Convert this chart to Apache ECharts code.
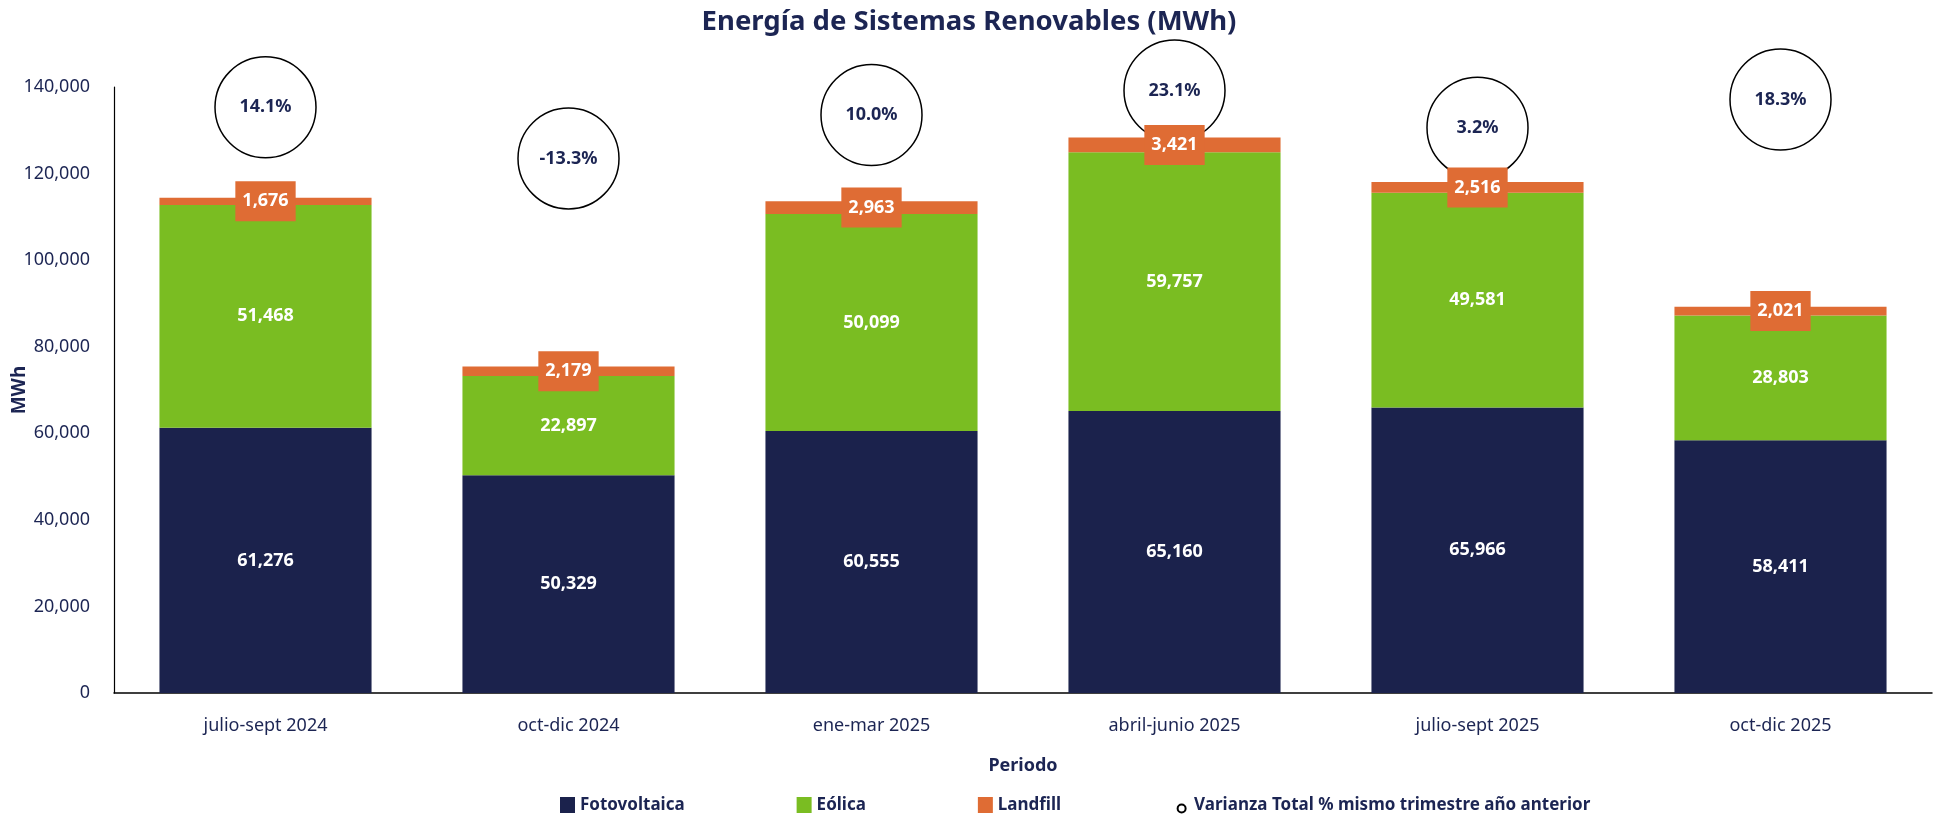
<!DOCTYPE html>
<html>
<head>
<meta charset="utf-8">
<script src="https://cdn.jsdelivr.net/npm/echarts@6/dist/echarts.min.js"></script>
<style>
    html, body { margin: 0; padding: 0; background: #ffffff; }
    #chart { width: 1938px; height: 815px; }
</style>
</head>
<body>
<div id="chart"></div>
<script>
// datos
const periodos = ['julio-sept 2024', 'oct-dic 2024', 'ene-mar 2025', 'abril-junio 2025', 'julio-sept 2025', 'oct-dic 2025']
const fotovoltaica = [61276, 50329, 60555, 65160, 65966, 58411]
const eolica = [51468, 22897, 50099, 59757, 49581, 28803]
const landfill = [1676, 2179, 2963, 3421, 2516, 2021]
const varianza = [14.1, -13.3, 10.0, 23.1, 3.2, 18.3] // % mismo trimestre año anterior

const NAVY = '#1b224c'
const TEXT = '#1c2553'
const GREEN = '#7abd22'
const ORANGE = '#df6c34'
const FONT = '"Noto Sans", sans-serif'

const fmt = v => Number(v).toLocaleString('en-US')

const chart = echarts.init(document.getElementById('chart'))

const barLabel = {
    show: true,
    position: 'inside',
    color: '#ffffff',
    fontFamily: FONT,
    fontWeight: 'bold',
    fontSize: 18,
    formatter: p => fmt(p.value)
}

const option = {
    animation: false,
    textStyle: { fontFamily: FONT },
    title: {
        text: 'Energía de Sistemas Renovables (MWh)',
        left: 'center',
        top: 3,
        textStyle: {
            color: TEXT,
            fontFamily: FONT,
            fontWeight: 'bold',
            fontSize: 27.5
        }
    },
    legend: {
        left: 555,
        top: 791,
        itemWidth: 15,
        itemHeight: 16,
        itemGap: 112,
        textStyle: {
            color: TEXT,
            fontFamily: FONT,
            fontWeight: 'bold',
            fontSize: 17
        },
        data: [
            { name: 'Fotovoltaica', icon: 'rect' },
            { name: 'Eólica', icon: 'rect' },
            { name: 'Landfill', icon: 'rect' },
            {
                name: 'Varianza Total % mismo trimestre año anterior',
                icon: 'path://M0,0 M15,16 M3.5,11.5 a4,4 0 1,0 8,0 a4,4 0 1,0 -8,0 z'
            }
        ]
    },
    grid: {
        left: 114,
        right: 6,
        top: 87,
        bottom: 122,
        outerBoundsMode: 'none'
    },
    xAxis: {
        type: 'category',
        data: periodos,
        name: 'Periodo',
        nameLocation: 'middle',
        nameGap: 64,
        nameMoveOverlap: false,
        nameTextStyle: {
            color: TEXT,
            fontFamily: FONT,
            fontWeight: 'bold',
            fontSize: 18
        },
        axisTick: { show: false },
        axisLine: { lineStyle: { color: '#000000', width: 1.5 } },
        axisLabel: {
            color: TEXT,
            fontFamily: FONT,
            fontSize: 18,
            margin: 24
        }
    },
    yAxis: [
        {
            type: 'value',
            min: 0,
            max: 140000,
            interval: 20000,
            name: 'MWh',
            nameLocation: 'middle',
            nameGap: 85,
            nameMoveOverlap: false,
            nameTextStyle: {
                color: TEXT,
                fontFamily: FONT,
                fontWeight: 'bold',
                fontSize: 19
            },
            axisLine: { show: true, lineStyle: { color: '#000000', width: 1.2 } },
            axisTick: { show: false },
            splitLine: { show: false },
            axisLabel: {
                color: TEXT,
                fontFamily: FONT,
                fontSize: 18,
                margin: 24,
                formatter: v => fmt(v)
            }
        },
        {
            // eje oculto para los círculos de varianza
            type: 'value',
            min: -300,
            max: 25,
            show: false,
            splitLine: { show: false }
        }
    ],
    series: [
        {
            name: 'Varianza Total % mismo trimestre año anterior',
            type: 'scatter',
            yAxisIndex: 1,
            z: 1,
            symbol: 'circle',
            symbolSize: 101,
            data: varianza,
            itemStyle: {
                color: '#ffffff',
                borderColor: '#000000',
                borderWidth: 1.5,
                opacity: 1
            },
            label: {
                show: true,
                position: 'inside',
                color: TEXT,
                fontFamily: FONT,
                fontWeight: 'bold',
                fontSize: 18,
                formatter: p => p.value.toFixed(1) + '%'
            }
        },
        {
            name: 'Fotovoltaica',
            type: 'bar',
            stack: 'total',
            z: 3,
            barCategoryGap: '30%',
            data: fotovoltaica,
            itemStyle: { color: NAVY },
            label: barLabel
        },
        {
            name: 'Eólica',
            type: 'bar',
            stack: 'total',
            z: 3,
            data: eolica,
            itemStyle: { color: GREEN },
            label: barLabel
        },
        {
            name: 'Landfill',
            type: 'bar',
            stack: 'total',
            z: 3,
            data: landfill,
            itemStyle: { color: ORANGE },
            label: Object.assign({}, barLabel, {
                backgroundColor: ORANGE,
                padding: [11, 7],
                lineHeight: 18
            })
        }
    ]
}

chart.setOption(option)
</script>
</body>
</html>
